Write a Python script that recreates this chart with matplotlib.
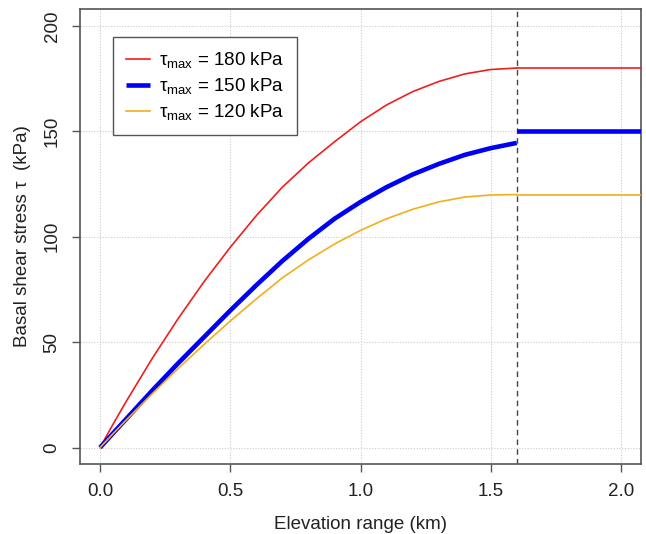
import matplotlib
matplotlib.use("Agg")
import matplotlib.pyplot as plt

# Elevation range (km) and basal shear stress (kPa)
elev = [0.0, 0.05, 0.1, 0.2, 0.3, 0.4, 0.5, 0.6, 0.7, 0.8, 0.9, 1.0,
        1.1, 1.2, 1.3, 1.4, 1.5, 1.6]
tau_180 = [0, 11.1, 21.8, 42.2, 61.2, 78.8, 95, 110, 123.5, 135, 145, 154.5,
           162.5, 168.8, 173.6, 177.2, 179.3, 180]
tau_150 = [0, 6.8, 13.5, 27, 40, 52.5, 65, 77, 88.5, 99, 108.5, 116.5,
           123.5, 129.5, 134.5, 138.8, 142, 144.5]
tau_120 = [0, 6.6, 13, 25.5, 37.5, 49, 60, 70.5, 80.5, 89, 96.5, 103,
           108.5, 113, 116.5, 118.8, 119.8, 120]

# plateau beyond the limit elevation
elev_flat = [1.6, 2.1]
flat_180 = [180, 180]
flat_150 = [150, 150]
flat_120 = [120, 120]
elev_limit = 1.6

labels = [r"$\mathregular{τ_{max}}$ = 180 kPa",
          r"$\mathregular{τ_{max}}$ = 150 kPa",
          r"$\mathregular{τ_{max}}$ = 120 kPa"]

plt.rcParams["font.family"] = ["Liberation Sans", "DejaVu Sans"]
plt.rcParams["mathtext.fontset"] = "custom"
plt.rcParams["mathtext.rm"] = "Liberation Sans"
plt.rcParams["mathtext.it"] = "Liberation Sans:italic"

RED = "#f01e1e"
BLUE = "#0000f5"
ORANGE = "#f2ae1c"
FRAME = "#555555"
FS = 13.5

fig = plt.figure(figsize=(6.46, 5.34), dpi=100)
ax = fig.add_axes([80 / 646, 70 / 534, 561 / 646, 455 / 534])

# grid
for xv in [0.0, 0.5, 1.0, 1.5, 2.0]:
    ax.axvline(xv, color="#cccccc", lw=0.8, ls=(0, (1, 1.5)), zorder=0)
for yv in [0, 50, 100, 150, 200]:
    ax.axhline(yv, color="#cccccc", lw=0.8, ls=(0, (1, 1.5)), zorder=0)

ax.axvline(elev_limit, color="#444444", lw=1.0, ls=(0, (4, 3)), zorder=1)

l1, = ax.plot(elev, tau_180, color=RED, lw=1.2, zorder=3)
ax.plot(elev_flat, flat_180, color=RED, lw=1.2, zorder=3)
l2, = ax.plot(elev, tau_150, color=BLUE, lw=3.3, solid_capstyle="butt", zorder=3)
ax.plot(elev_flat, flat_150, color=BLUE, lw=3.3, solid_capstyle="butt", zorder=3)
l3, = ax.plot(elev, tau_120, color=ORANGE, lw=1.2, zorder=3)
ax.plot(elev_flat, flat_120, color=ORANGE, lw=1.2, zorder=3)

ax.set_xlim(-0.077, 2.077)
ax.set_ylim(-7.8, 208)
ax.set_xticks([0.0, 0.5, 1.0, 1.5, 2.0])
ax.set_xticklabels(["0.0", "0.5", "1.0", "1.5", "2.0"])
ax.set_yticks([0, 50, 100, 150, 200])
ax.set_yticklabels(["0", "50", "100", "150", "200"], rotation=90, va="center")

ax.tick_params(axis="both", direction="out", length=6, width=1.0,
               color=FRAME, labelsize=FS, labelcolor="#222222", pad=8)
for sp in ax.spines.values():
    sp.set_color(FRAME)
    sp.set_linewidth(1.2)

ax.set_xlabel("Elevation range (km)", fontsize=FS, color="#222222", labelpad=11)
ax.set_ylabel("Basal shear stress τ  (kPa)", fontsize=FS, color="#222222", labelpad=9)

leg = ax.legend([l1, l2, l3], labels, loc="upper left",
                bbox_to_anchor=(0.059, 0.9385), borderaxespad=0,
                fontsize=FS, fancybox=False, framealpha=1,
                edgecolor=FRAME, handlelength=1.25, handletextpad=0.5,
                labelspacing=0.32, borderpad=0.7)
leg.get_frame().set_linewidth(1.0)

fig.savefig("out.png", dpi=100, facecolor="white")
plt.close(fig)
